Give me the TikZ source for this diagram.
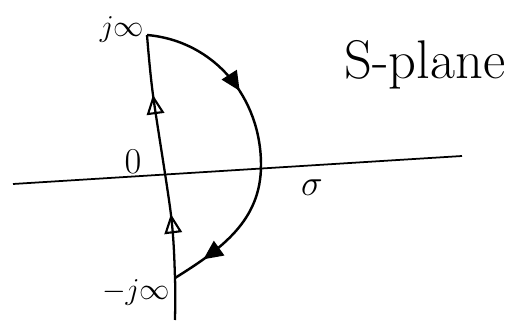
\documentclass[tikz,border=0pt]{standalone}
\usetikzlibrary{arrows.meta,decorations.markings}
\begin{document}
\begin{tikzpicture}[x=0.02cm,y=0.02cm,
  hollowtip/.style={decoration={markings,
    mark=at position .37 with {\arrow{Triangle[open,length=11pt,width=10pt,line width=1.2pt]}},
    mark=at position .79 with {\arrow{Triangle[open,length=11pt,width=10pt,line width=1.2pt]}}},
    postaction={decorate}},
  solidtip/.style={decoration={markings,
    mark=at position .33 with {\arrow{Triangle[length=11pt,width=10pt]}},
    mark=at position .9 with {\arrow{Triangle[length=11pt,width=10pt]}}},
    postaction={decorate}}]
\useasboundingbox (0,0) rectangle (519,324);
\coordinate (left) at (13,140);
\coordinate (right) at (462,168);
\coordinate (bot) at (175,4);
\coordinate (low) at (171,109);
\coordinate (high) at (153,229);
\coordinate (top) at (147,289);
\coordinate (arcmid) at (261,159);
\coordinate (arcend) at (175,46);
% axes
\draw[line width=1pt] (left) -- (right);
\draw[line width=1.3pt,hollowtip] plot[smooth] coordinates {(bot) (arcend) (low) (high) (top)};
% contour
\draw[line width=1.4pt,solidtip] (top) to[out=-5,in=90] (arcmid) to[out=-90,in=32] (arcend);
\node[font=\LARGE] (jinf) at (122,294) {$j\infty$};
\node[font=\LARGE] (mjinf) at (136,32) {$-j\infty$};
\node[font=\huge] (zero) at (133,162) {$0$};
\node[font=\huge] (sigma) at (312,136) {$\sigma$};
\node[font=\fontsize{31}{34}\selectfont] (splane) at (425,259) {S-plane};
\end{tikzpicture}
\end{document}
